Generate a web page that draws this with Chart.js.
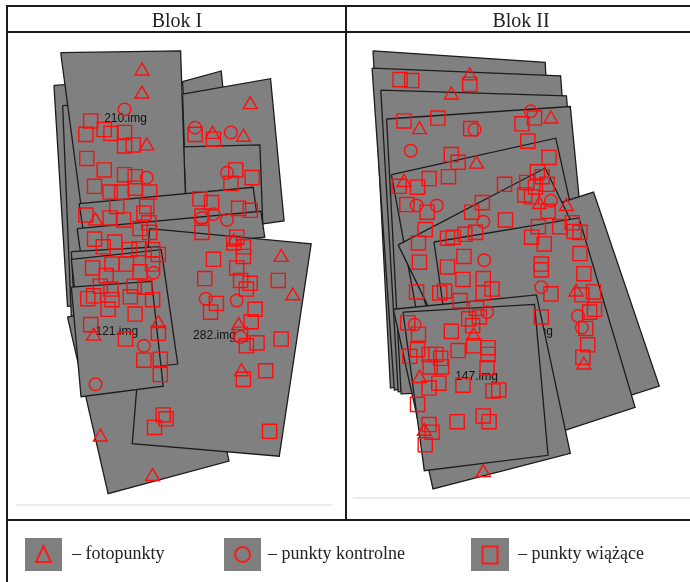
<!DOCTYPE html>
<html lang="pl">
<head>
  <meta charset="UTF-8">
  <title>Blok I / Blok II</title>
  <style>
    body {
      margin: 0;
      width: 690px;
      height: 582px;
      overflow: hidden;
      position: relative;
      background: #fff;
      font-family: 'Liberation Serif', 'DejaVu Serif', serif;
      color: #222;
    }
    #plot { position: absolute; left: 0; top: 0; }
    .ln { position: absolute; background: #1a1a1a; }
    .faint { position: absolute; background: #ececec; height: 2px; }
    .head {
      position: absolute;
      top: 10px;
      font-size: 20px;
      line-height: 20px;
      text-align: center;
    }
    .box {
      position: absolute;
      top: 538px;
      height: 33px;
      background: #7f7f7f;
    }
    .box svg { display: block; }
    .txt {
      position: absolute;
      top: 544px;
      font-size: 18px;
      line-height: 18px;
      white-space: nowrap;
    }
  </style>
</head>
<body>
  <canvas id="plot" width="690" height="582"></canvas>

  <!-- ramka tabeli -->
  <div class="ln" style="left:7px; top:5px; width:683px; height:2px"></div>
  <div class="ln" style="left:7px; top:31px; width:683px; height:2px"></div>
  <div class="ln" style="left:6px; top:5px; width:2px; height:577px"></div>
  <div class="ln" style="left:345px; top:5px; width:2px; height:515px"></div>
  <div class="ln" style="left:7px; top:519px; width:683px; height:2px"></div>
  <div class="faint" style="left:16px; top:504px; width:316px"></div>
  <div class="faint" style="left:353px; top:497px; width:337px"></div>

  <div class="head" style="left:8px; width:338px">Blok I</div>
  <div class="head" style="left:352px; width:338px">Blok II</div>

  <!-- legenda -->
  <div class="box" style="left:25px; width:37px">
    <svg width="37" height="33"><polygon points="18.5,8 26,24 11,24" fill="none" stroke="#ff1a1a" stroke-width="2"/></svg>
  </div>
  <div class="txt" style="left:72px">– fotopunkty</div>
  <div class="box" style="left:224px; width:37px">
    <svg width="37" height="33"><circle cx="18.5" cy="16.5" r="7.5" fill="none" stroke="#ff1a1a" stroke-width="2"/></svg>
  </div>
  <div class="txt" style="left:268px">– punkty kontrolne</div>
  <div class="box" style="left:471px; width:38px">
    <svg width="38" height="33"><rect x="11.5" y="8.5" width="15" height="17" fill="none" stroke="#ff1a1a" stroke-width="2"/></svg>
  </div>
  <div class="txt" style="left:518px">– punkty wiążące</div>

  <script src="https://cdn.jsdelivr.net/npm/chart.js"></script>
  <script>
    // obrysy zdjęć, od spodu do wierzchu (współrzędne w układzie rysunku)
    const blok1Zdjecia = [
      [[44,77],[150,70],[165,300],[58,307]],
      [[53,98],[160,92],[170,312],[62,318]],
      [[177,73],[217,62],[232,212],[185,220]],
      [[177,86],[268,70],[282,218],[182,232]],
      [[178,141],[257,139],[260,222],[182,228]],
      [[51,43],[175,41],[180,193],[72,202]],
      [[70,200],[250,183],[254,212],[75,232]],
      [[68,226],[258,208],[262,235],[72,255]],
      [[58,318],[190,300],[225,468],[100,502]],
      [[143,226],[310,242],[277,463],[125,450]],
      [[62,250],[153,245],[158,282],[64,288]],
      [[62,258],[155,248],[172,367],[75,378]],
      [[62,287],[145,281],[157,390],[72,401]]
    ];
    const blok2Zdjecia = [
      [[374,41],[552,53],[568,360],[392,392]],
      [[373,59],[568,67],[590,370],[396,394]],
      [[382,82],[574,88],[598,380],[400,396]],
      [[388,112],[578,99],[606,390],[403,398]],
      [[393,170],[563,132],[600,300],[425,345]],
      [[410,250],[602,188],[670,390],[478,452]],
      [[400,243],[552,163],[600,262],[448,342]],
      [[437,240],[587,215],[645,412],[470,470]],
      [[395,310],[543,295],[578,460],[436,497]],
      [[405,313],[541,305],[555,462],[427,478]]
    ];
    // nazwy plików: [indeks zdjęcia, tekst, x, y]
    const nazwyZdjec = [
      [5, '210.img', 118, 112],
      [9, '282.img', 210, 338],
      [12, '121.img', 109, 333],
      [20, '148.img', 538, 333],
      [22, '147.img', 481, 380]
    ];

    const fotoI = [[135,62],[135,86],[247,97],[140,140],[208,128],[240,131],[87,218],[230,240],
      [279,256],[291,296],[152,325],[235,327],[85,338],[238,375],[92,443],[146,484]];
    const kontrolI = [[117,102],[190,121],[227,126],[140,173],[223,168],[209,211],[223,217],[197,215],
      [147,272],[201,299],[233,301],[137,348],[237,339],[87,388]];
    const wiazI = [[82,114],[96,123],[77,128],[103,127],[117,126],[117,140],[126,139],[190,128],[209,133],
      [78,153],[96,165],[117,170],[128,172],[86,182],[102,188],[114,188],[128,184],[143,188],[232,165],
      [249,173],[227,179],[195,195],[207,199],[235,205],[247,207],[77,212],[109,203],[102,215],[116,217],
      [140,203],[137,210],[142,220],[197,213],[143,230],[133,226],[197,230],[233,235],[230,241],[240,245],
      [86,237],[95,245],[107,240],[122,248],[132,247],[146,248],[152,253],[209,258],[240,255],[233,267],
      [84,267],[104,263],[119,263],[133,271],[146,263],[98,275],[200,278],[237,280],[247,283],[243,289],
      [276,280],[92,286],[103,289],[127,286],[138,287],[85,296],[79,299],[104,300],[123,297],[146,300],
      [100,310],[212,304],[206,313],[252,310],[248,323],[128,315],[82,326],[152,335],[118,341],[237,336],
      [243,348],[254,345],[279,341],[137,363],[154,362],[154,378],[263,374],[240,383],[157,420],[160,424],
      [148,433],[267,437]];

    const fotoII = [[474,67],[455,87],[422,123],[558,112],[481,159],[406,178],[546,201],[574,203],
      [584,292],[478,338],[592,368],[422,382],[427,437],[488,480]];
    const kontrolII = [[537,104],[479,123],[413,145],[419,202],[440,202],[558,197],[488,219],[489,259],
      [548,287],[492,313],[586,317],[590,329],[417,326]];
    const wiazII = [[402,71],[414,72],[474,76],[406,114],[441,111],[475,122],[528,117],[541,111],[534,135],
      [556,152],[455,149],[462,157],[452,172],[432,174],[401,182],[420,183],[510,180],[533,178],[544,167],
      [549,172],[554,180],[542,183],[531,191],[538,193],[409,201],[430,209],[487,199],[476,209],[511,217],
      [555,208],[545,224],[538,235],[551,242],[567,224],[580,220],[582,229],[588,230],[588,252],[428,227],
      [421,241],[451,236],[457,235],[469,232],[480,230],[468,255],[422,261],[451,266],[467,279],[488,278],
      [497,289],[488,293],[548,263],[548,269],[592,273],[419,292],[443,293],[448,291],[464,301],[558,294],
      [590,295],[602,292],[598,313],[603,310],[594,330],[481,309],[473,320],[484,318],[548,318],[410,324],
      [421,336],[455,333],[477,327],[478,348],[493,350],[493,357],[462,353],[420,352],[432,357],[412,359],
      [444,361],[439,357],[433,370],[445,370],[492,371],[596,347],[591,360],[442,387],[432,392],[467,389],
      [498,395],[504,394],[420,409],[461,427],[488,421],[494,427],[432,430],[435,438],[428,451]];

    const toPts = arr => arr.map(([x, y]) => ({ x, y }));
    const zdjecia = [...blok1Zdjecia, ...blok2Zdjecia];

    const polygony = zdjecia.map((p, i) => {
      const nazwa = nazwyZdjec.find(n => n[0] === i);
      return {
        type: 'line',
        data: toPts([...p, p[0]]),
        fill: 'shape',
        backgroundColor: '#808080',
        borderColor: '#1c1c1c',
        borderWidth: 1.3,
        pointRadius: 0,
        tension: 0,
        order: 1000 - i,
        nazwa: nazwa ? nazwa[1] : null,
        nazwaXY: nazwa ? [nazwa[2], nazwa[3]] : null
      };
    });

    const punkty = (dane, styl, r) => ({
      type: 'scatter',
      data: toPts(dane),
      pointStyle: styl,
      pointRadius: r,
      pointBorderWidth: 1.4,
      pointBorderColor: '#ff0d0d',
      pointBackgroundColor: 'rgba(0,0,0,0)',
      order: 0
    });

    // podpisy zdjęć rysowane zaraz po swoim obrysie
    const podpisy = {
      id: 'podpisy',
      afterDatasetDraw(chart, args) {
        const ds = chart.data.datasets[args.index];
        if (!ds.nazwa) return;
        const ctx = chart.ctx;
        ctx.save();
        ctx.font = '12px "Liberation Sans", Arial, sans-serif';
        ctx.fillStyle = '#111';
        ctx.textAlign = 'center';
        ctx.textBaseline = 'middle';
        ctx.fillText(ds.nazwa, chart.scales.x.getPixelForValue(ds.nazwaXY[0]),
          chart.scales.y.getPixelForValue(ds.nazwaXY[1]));
        ctx.restore();
      }
    };

    new Chart(document.getElementById('plot'), {
      type: 'scatter',
      data: {
        datasets: [
          ...polygony,
          punkty([...fotoI, ...fotoII], 'triangle', 8),
          punkty([...kontrolI, ...kontrolII], 'circle', 6.3),
          punkty([...wiazI, ...wiazII], 'rect', 10)
        ]
      },
      options: {
        responsive: false,
        animation: false,
        events: [],
        layout: { padding: 0 },
        scales: {
          x: { type: 'linear', min: 0, max: 690, display: false },
          y: { type: 'linear', min: 0, max: 582, reverse: true, display: false }
        },
        plugins: {
          legend: { display: false },
          tooltip: { enabled: false }
        }
      },
      plugins: [podpisy]
    });
  </script>
</body>
</html>
